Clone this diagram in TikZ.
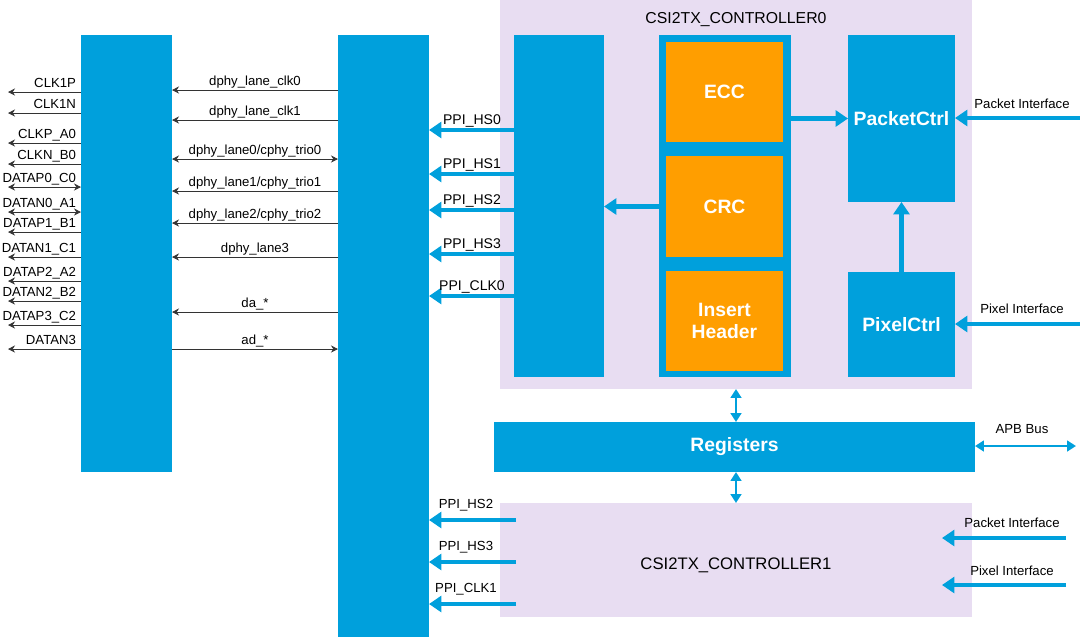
\documentclass[tikz,border=0pt]{standalone}
\usepackage{fontspec}
\setmainfont{Liberation Sans}
\usetikzlibrary{arrows.meta}
\definecolor{ipblue}{HTML}{00A0DC}
\definecolor{iplav}{HTML}{E8DDF2}
\definecolor{iporange}{HTML}{FF9E00}
\begin{document}
\begin{tikzpicture}[
        x = 0.02cm, y = -0.02cm,
        outer sep = 0mm, inner sep = 0mm,
        blk/.style = {fill = ipblue, draw = none},
        lav/.style = {fill = iplav, draw = none},
        org/.style = {fill = iporange, draw = none, text = white,
          font = \bfseries\fontsize{11}{13}\selectfont, align = center},
        btxt/.style = {text = white, font = \bfseries\fontsize{11}{13}\selectfont},
        lbl/.style = {font = \fontsize{7.5}{9}\selectfont, text = black},
        sig/.style = {draw = black!80, thin, -{Stealth[length = 4pt, width = 4pt]}},
        bsig/.style = {draw = black!80, thin, {Stealth[length = 4pt, width = 4pt]}-{Stealth[length = 4pt, width = 4pt]}},
        bus/.style = {draw = ipblue, line width = 2.5pt, -{Triangle[length = 7pt, width = 9pt]}},
        dbus/.style = {draw = ipblue, line width = 1.5pt, {Triangle[length = 5pt, width = 6pt]}-{Triangle[length = 5pt, width = 6pt]}}
      ]
      \useasboundingbox (0,0) rectangle (1080,637);

      % containers
      \fill[lav] (500,0) rectangle (972,389);
      \fill[lav] (500,503) rectangle (972,617);
      \node[lbl, font = \fontsize{9}{11}\selectfont] (c0) at (736,20) {CSI2TX\_CONTROLLER0};
      \node[lbl, font = \fontsize{9.5}{11}\selectfont] (c1) at (736,565) {CSI2TX\_CONTROLLER1};

      % blocks
      \path[blk] (81,35) rectangle (172,472) coordinate (Abr);
      \node[minimum width = 91*0.02cm, minimum height = 437*0.02cm] (A) at (126.5,253.5) {};
      \path[blk] (338,35) rectangle (429,637);
      \node[minimum width = 91*0.02cm, minimum height = 602*0.02cm] (B) at (383.5,336) {};
      \path[blk] (514,35) rectangle (604,377);
      \node[minimum width = 90*0.02cm, minimum height = 342*0.02cm] (C) at (559,206) {};
      \path[blk] (659,35) rectangle (791,377);
      \node[minimum width = 132*0.02cm, minimum height = 342*0.02cm] (F) at (725,206) {};
      \node[org, minimum width = 117*0.02cm, minimum height = 100*0.02cm] (ECC) at (724.5,92) {ECC};
      \node[org, minimum width = 117*0.02cm, minimum height = 101*0.02cm] (CRC) at (724.5,206.5) {CRC};
      \node[org, minimum width = 117*0.02cm, minimum height = 100*0.02cm] (IH) at (724.5,321) {Insert\\Header};
      \node[blk, btxt, minimum width = 107*0.02cm, minimum height = 167*0.02cm] (PK) at (901.5,118.5) {PacketCtrl};
      \node[blk, btxt, minimum width = 107*0.02cm, minimum height = 105*0.02cm] (PX) at (901.5,324.5) {PixelCtrl};
      \node[blk, btxt, minimum width = 481*0.02cm, minimum height = 50*0.02cm] (REG) at (734.5,447) {Registers};
      \node[minimum width = 472*0.02cm, minimum height = 114*0.02cm] (C1) at (736,560) {};

      % pins on the left
      \foreach \y/\t/\s in {92/CLK1P/sig, 113/CLK1N/sig, 143/CLKP\_A0/sig, 164/CLKN\_B0/sig,
          187/DATAP0\_C0/bsig, 212/DATAN0\_A1/bsig, 232/DATAP1\_B1/sig, 257/DATAN1\_C1/sig,
          281/DATAP2\_A2/sig, 301/DATAN2\_B2/sig, 325/DATAP3\_C2/sig, 349/DATAN3/sig} {
        \coordinate (p) at (8,\y);
        \draw[\s] (A.west |- p) to (p);
        \node[lbl, anchor = base east] at (76,\y-5) {\t};
      }

      % lanes between the blocks
      \foreach \y/\t/\s in {90/dphy\_lane\_clk0/sig, 120/dphy\_lane\_clk1/sig,
          159/dphy\_lane0\slash cphy\_trio0/bsig, 191/dphy\_lane1\slash cphy\_trio1/sig,
          223/dphy\_lane2\slash cphy\_trio2/sig, 257/dphy\_lane3/sig, 312/da\_*/sig} {
        \coordinate (q) at (0,\y);
        \draw[\s] (B.west |- q) to (A.east |- q);
        \node[lbl, anchor = base] at (255,\y-5) {\t};
      }
      \coordinate (q) at (0,349);
      \draw[sig] (A.east |- q) to (B.west |- q);
      \node[lbl, anchor = base] at (255,344) {ad\_*};

      % PPI outputs
      \foreach \y/\t in {130/PPI\_HS0, 174/PPI\_HS1, 210/PPI\_HS2, 254/PPI\_HS3, 296/PPI\_CLK0} {
        \coordinate (q) at (0,\y);
        \draw[bus] (C.west |- q) to (B.east |- q);
        \node[lbl, font = \fontsize{8}{10}\selectfont, anchor = base] at (472,\y-6) {\t};
      }
      \foreach \y/\t in {520/PPI\_HS2, 562/PPI\_HS3, 604/PPI\_CLK1} {
        \coordinate (q) at (516,\y);
        \draw[bus] (q) to (B.east |- q);
        \node[lbl, anchor = base] at (466,\y-12) {\t};
      }

      % internal buses
      \draw[bus] (F.east |- PK) to (PK.west);
      \draw[bus] (F.west |- CRC) to (C.east |- CRC);
      \draw[bus] (PX.north) to (PK.south);
      \draw[dbus] (736,389) coordinate (t0) to (REG.north -| t0);
      \draw[dbus] (REG.south -| t0) to (C1.north -| t0);

      % interfaces
      \coordinate (pi) at (1080,118);
      \draw[bus] (pi) to (PK.east |- pi);
      \node[lbl, anchor = base] at (1022,108) {Packet Interface};
      \coordinate (xi) at (1080,324);
      \draw[bus] (xi) to (PX.east |- xi);
      \node[lbl, anchor = base] at (1022,313) {Pixel Interface};
      \coordinate (apb) at (1076,446);
      \draw[dbus] (REG.east |- apb) to (apb);
      \node[lbl, anchor = base] at (1022,433) {APB Bus};
      \coordinate (pi1) at (1066,538);
      \draw[bus] (pi1) to ++(-124,0);
      \node[lbl, anchor = base] at (1012,527) {Packet Interface};
      \coordinate (xi1) at (1066,585);
      \draw[bus] (xi1) to ++(-124,0);
      \node[lbl, anchor = base] at (1012,575) {Pixel Interface};
    \end{tikzpicture}
\end{document}
